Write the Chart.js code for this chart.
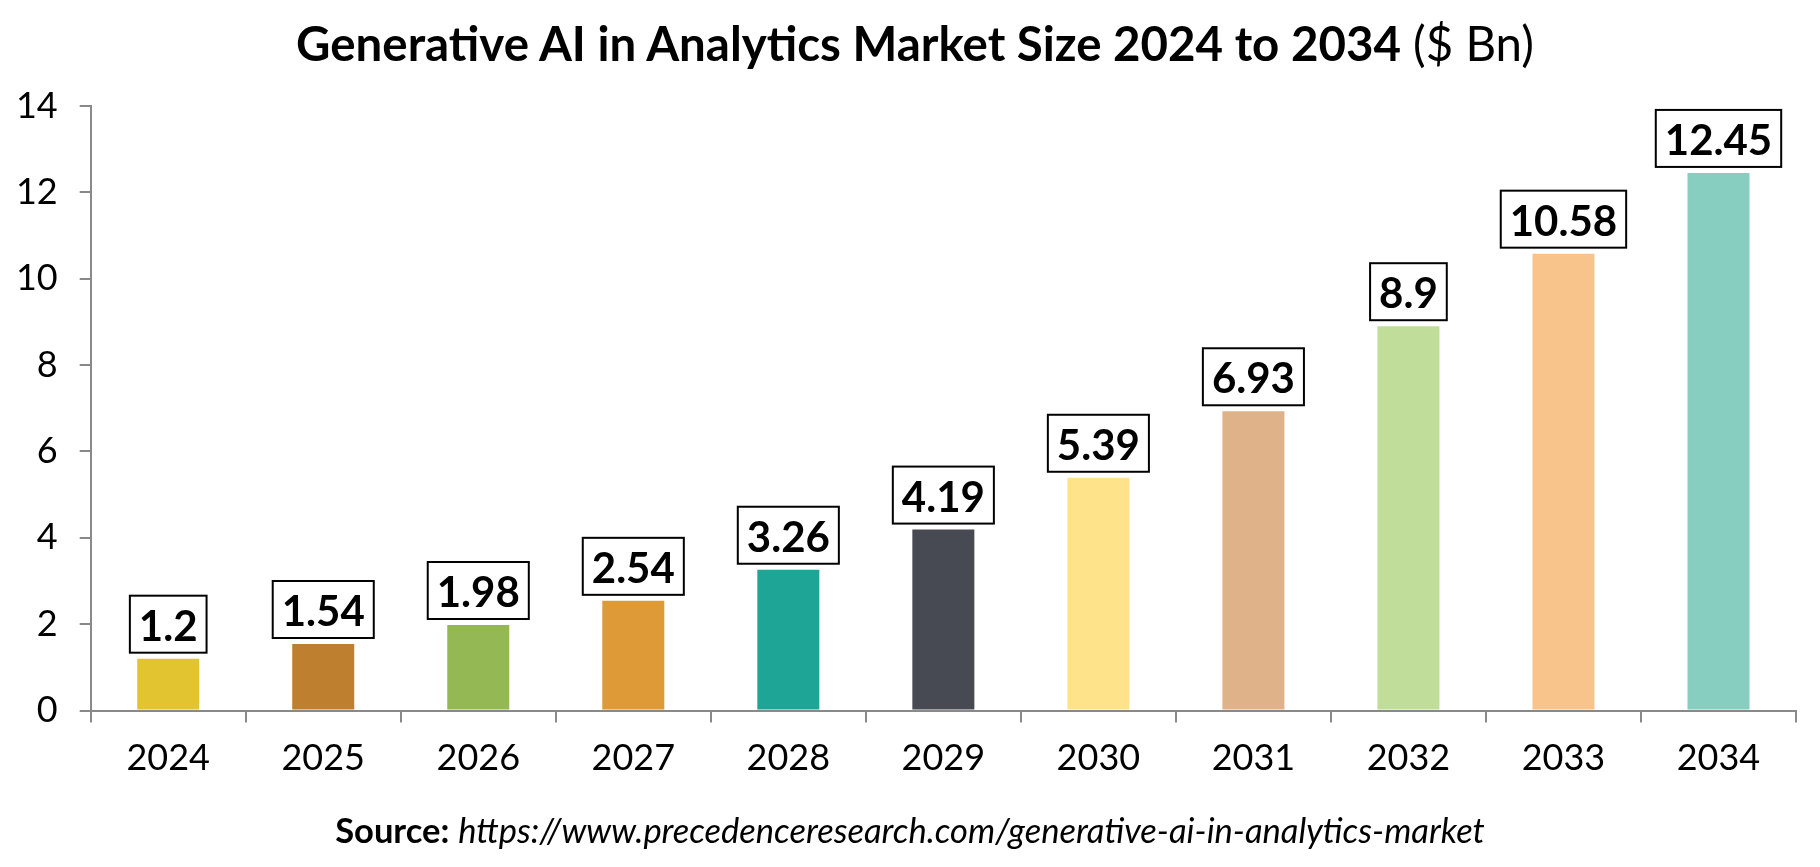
<!DOCTYPE html>
<html>
<head>
<meta charset="utf-8">
<script src="https://cdn.jsdelivr.net/npm/chart.js@4.4.1/dist/chart.umd.min.js"></script>
<style>
  html, body { margin: 0; padding: 0; background: #ffffff; }
  body { width: 1820px; height: 867px; position: relative; overflow: hidden; }
  #wrap { position: absolute; left: 0; top: 0; width: 1820px; height: 867px; }
  #title { position: absolute; left: 0; top: 0; white-space: nowrap; font-family: Lato, sans-serif; color: #000; line-height: 1; }
  #title b { font-weight: 700; }
  #title span { font-weight: 400; }
  #source { position: absolute; left: 0; top: 0; white-space: nowrap; font-family: Lato, sans-serif; color: #000; line-height: 1; }
  #source b { font-weight: 700; }
  #source i { font-style: italic; font-weight: 400; }
</style>
</head>
<body>
<div id="wrap"><canvas id="c" width="1820" height="867"></canvas></div>
<div id="title"><b>Generative AI in Analytics Market Size 2024 to 2034</b> <span>($ Bn)</span></div>
<div id="source"><b>Source:</b> <i>https://www.precedenceresearch.com/generative-ai-in-analytics-market</i></div>
<script>
const categories = ['2024', '2025', '2026', '2027', '2028', '2029', '2030', '2031', '2032', '2033', '2034'];
const marketSize = [1.2, 1.54, 1.98, 2.54, 3.26, 4.19, 5.39, 6.93, 8.9, 10.58, 12.45];
const valueLabels = ['1.2', '1.54', '1.98', '2.54', '3.26', '4.19', '5.39', '6.93', '8.9', '10.58', '12.45'];
const barColors = ['#E2C330', '#BE7F2E', '#94B853', '#DD9A36', '#1FA595', '#474A52', '#FEE38A', '#E0B289', '#C0DD99', '#F9C48C', '#87CDC0'];
const yTickValues = [0, 2, 4, 6, 8, 10, 12, 14];

// Fit and place HTML text blocks
function placeText(el, targetLeft, targetRight, baseline, boldEl) {
  // scale font so measured width fits target
  let size = 40;
  el.style.fontSize = size + 'px';
  const w = el.getBoundingClientRect().width;
  size = size * (targetRight - targetLeft) / w;
  el.style.fontSize = size + 'px';
  const r = el.getBoundingClientRect();
  el.style.left = (targetLeft + (targetRight - targetLeft - r.width) / 2) + 'px';
  // compute baseline offset using inline-block probe
  const probe = document.createElement('span');
  probe.style.display = 'inline-block';
  probe.style.width = '1px';
  probe.style.height = '0px';
  probe.style.verticalAlign = 'baseline';
  el.appendChild(probe);
  const pr = probe.getBoundingClientRect();
  const er = el.getBoundingClientRect();
  const baseOff = pr.top - er.top;
  el.removeChild(probe);
  el.style.top = (baseline - baseOff) + 'px';
}
placeText(document.getElementById('title'), 296, 1534, 61);
placeText(document.getElementById('source'), 335, 1485, 843);

const axisGray = '#898989';

const boxLabels = {
  id: 'boxLabels',
  afterDatasetsDraw(chart) {
    const ctx = chart.ctx;
    const meta = chart.getDatasetMeta(0);
    ctx.save();
    ctx.font = '700 42px Lato, sans-serif';
    ctx.textAlign = 'center';
    ctx.textBaseline = 'alphabetic';
    meta.data.forEach((bar, i) => {
      const txt = valueLabels[i];
      const tw = ctx.measureText(txt).width;
      const w = tw + 18;
      const h = 57;
      const bottom = bar.y - 6;
      const left = bar.x - w / 2;
      ctx.fillStyle = '#ffffff';
      ctx.fillRect(left, bottom - h, w, h);
      ctx.lineWidth = 2;
      ctx.strokeStyle = '#000000';
      ctx.strokeRect(left, bottom - h, w, h);
      ctx.fillStyle = '#000000';
      ctx.fillText(txt, bar.x, bottom - 12);
    });
    ctx.restore();
  }
};

new Chart(document.getElementById('c'), {
  type: 'bar',
  data: {
    labels: categories,
    datasets: [{
      data: marketSize,
      backgroundColor: barColors,
      borderWidth: 0,
      barPercentage: 0.4,
      categoryPercentage: 1.0
    }]
  },
  options: {
    responsive: false,
    devicePixelRatio: 1,
    animation: false,
    layout: { padding: { top: 106, right: 24, left: 0, bottom: 0 } },
    plugins: {
      legend: { display: false },
      title: { display: false },
      tooltip: { enabled: false }
    },
    scales: {
      x: {
        grid: {
          offset: true,
          drawOnChartArea: false,
          drawTicks: true,
          tickLength: 12,
          color: axisGray,
          lineWidth: 2
        },
        border: { display: true, color: axisGray, width: 2 },
        ticks: {
          color: '#000000',
          font: { family: 'Lato, sans-serif', size: 36, weight: '400' },
          padding: 14,
          maxRotation: 0,
          autoSkip: false
        },
        afterFit(scale) { scale.height = 867 - 710.5; }
      },
      y: {
        min: 0,
        max: 14,
        afterBuildTicks(scale) { scale.ticks = yTickValues.map(v => ({ value: v })); },
        grid: {
          drawOnChartArea: false,
          drawTicks: true,
          tickLength: 11,
          color: axisGray,
          lineWidth: 2
        },
        border: { display: true, color: axisGray, width: 2 },
        ticks: {
          color: '#000000',
          font: { family: 'Lato, sans-serif', size: 36, weight: '400' },
          padding: 22
        },
        afterFit(scale) { scale.width = 90.7; }
      }
    }
  },
  plugins: [boxLabels]
});
</script>
</body>
</html>
